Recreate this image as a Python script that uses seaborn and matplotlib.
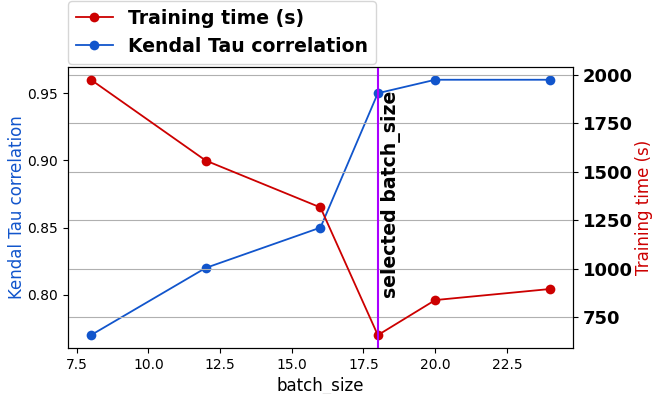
import matplotlib
matplotlib.use("Agg")
import matplotlib.pyplot as plt
import seaborn as sns
import pandas as pd

batch_size = [8, 12, 16, 18, 20, 24]
kendal_tau = [0.77, 0.82, 0.85, 0.95, 0.96, 0.96]
training_time = [1975, 1558, 1316, 657, 838, 895]
selected = 18
x_ticks = [7.5, 10.0, 12.5, 15.0, 17.5, 20.0, 22.5]

df = pd.DataFrame({"batch_size": batch_size, "tau": kendal_tau, "time": training_time})

RED = "#cc0000"
BLUE = "#1155cc"

fig = plt.figure(figsize=(6.54, 3.94), dpi=100)
ax1 = fig.add_axes([0.104, 0.117, 0.772, 0.713])
ax2 = ax1.twinx()

sns.lineplot(data=df, x="batch_size", y="tau", ax=ax1, color=BLUE, marker="o",
             markersize=7, markeredgewidth=0, linewidth=1.3, label="Kendal Tau correlation", legend=False)
sns.lineplot(data=df, x="batch_size", y="time", ax=ax2, color=RED, marker="o",
             markersize=7, markeredgewidth=0, linewidth=1.3, label="Training time (s)", legend=False)

ax1.set_xticks(x_ticks)
ax1.set_xticklabels([f"{t:.1f}" for t in x_ticks])
ax1.set_xlim(7.2, 24.8)
ax1.set_xlabel("batch_size", fontsize=12)
ax1.set_ylabel("Kendal Tau correlation", color=BLUE, fontsize=12, labelpad=1)
ax2.set_ylabel("Training time (s)", color=RED, fontsize=12, labelpad=2)
ax1.tick_params(labelsize=10)
ax1.set_yticks([0.80, 0.85, 0.90, 0.95])
ax2.set_yticks([750, 1000, 1250, 1500, 1750, 2000])
for lab in ax2.get_yticklabels():
    lab.set_fontweight("bold")
    lab.set_fontsize(13)
ax2.grid(True, axis="y", color="#b0b0b0", linewidth=0.8)

ax2.axvline(selected, color="#aa00ff", linewidth=1.5)
ax2.text(selected + 0.1, 1385, "selected batch_size", rotation=90, fontsize=13.6,
         fontweight="bold", ha="left", va="center")

h1, l1 = ax1.get_legend_handles_labels()
h2, l2 = ax2.get_legend_handles_labels()
ax1.legend(h2 + h1, l2 + l1, loc="lower left", bbox_to_anchor=(0.0, 1.012),
           prop={"weight": "bold", "size": 13.6}, borderaxespad=0.0)

fig.savefig("out.png", dpi=100)
